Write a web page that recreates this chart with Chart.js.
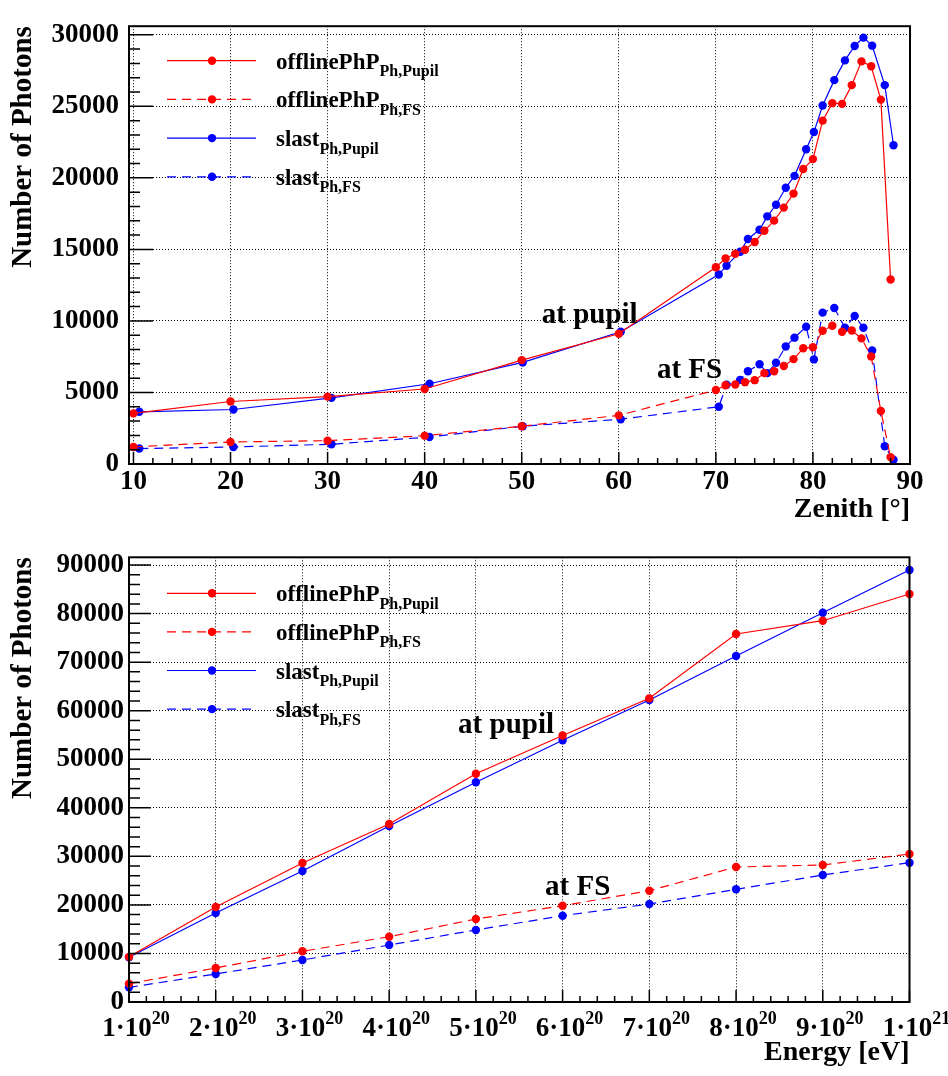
<!DOCTYPE html>
<html>
<head>
<meta charset="utf-8">
<script src="https://cdn.jsdelivr.net/npm/chart.js@4.4.0/dist/chart.umd.min.js"></script>
<style>
  html, body { margin: 0; padding: 0; background: #fff; }
  #wrap { position: relative; width: 948px; height: 1076px; }
  canvas { position: absolute; left: 0; }
</style>
</head>
<body>
<div id="wrap">
  <canvas id="zenithChart" width="948" height="530" style="top:0px"></canvas>
  <canvas id="energyChart" width="948" height="546" style="top:530px"></canvas>
</div>
<script>
// ---- top plot: photons vs zenith ----
var zenithOffline = [10, 20, 30, 40, 50, 60, 70, 71, 72, 73, 74, 75, 76, 77, 78, 79, 80, 81, 82, 83, 84, 85, 86, 87, 88];
var offlinePupilZ = [3540, 4370, 4710, 5240, 7260, 9100, 13750, 14370, 14690, 14970, 15520, 16300, 17010, 17920, 18900, 20620, 21310, 24000, 25220, 25170, 26480, 28140, 27800, 25470, 12900];
var offlineFSZ = [1190, 1540, 1630, 1980, 2640, 3400, 5170, 5500, 5560, 5720, 5860, 6350, 6480, 6850, 7330, 8090, 8160, 9310, 9660, 9240, 9330, 8780, 7520, 3700, 480];

var zenithSlast = [10.6, 20.3, 30.4, 40.5, 50.1, 60.2, 70.3, 71.1, 72.5, 73.3, 74.5, 75.3, 76.2, 77.2, 78.1, 79.3, 80.1, 81.0, 82.2, 83.3, 84.3, 85.2, 86.1, 87.4, 88.3];
var slastPupilZ = [3650, 3810, 4620, 5610, 7100, 9240, 13240, 13860, 14830, 15730, 16370, 17310, 18120, 19310, 20140, 22000, 23200, 25060, 26830, 28210, 29220, 29800, 29240, 26480, 22280];
var slastFSZ = [1080, 1190, 1380, 1890, 2640, 3130, 4000, 5540, 5880, 6480, 6970, 6350, 7080, 8210, 8830, 9590, 7310, 10580, 10900, 9520, 10350, 9520, 7930, 1240, 300];

var zenithTicks = [10, 20, 30, 40, 50, 60, 70, 80, 90];
var photonTicksZ = [0, 5000, 10000, 15000, 20000, 25000, 30000];

// ---- bottom plot: photons vs energy ----
var energy = [1e20, 2e20, 3e20, 4e20, 5e20, 6e20, 7e20, 8e20, 9e20, 1e21];
var offlinePupilE = [9300, 19570, 28630, 36660, 47030, 54900, 62550, 75800, 78540, 84040];
var offlineFSE = [3780, 7000, 10440, 13450, 17100, 19840, 22930, 27810, 28220, 30480];
var slastPupilE = [9200, 18330, 26980, 36250, 45250, 53900, 62200, 71270, 80190, 88980];
var slastFSE = [3020, 5770, 8650, 11740, 14830, 17780, 20190, 23210, 26160, 28690];

var energyTicks = [1e20, 2e20, 3e20, 4e20, 5e20, 6e20, 7e20, 8e20, 9e20, 1e21];
var photonTicksE = [0, 10000, 20000, 30000, 40000, 50000, 60000, 70000, 80000, 90000];

var legendMain = ["offlinePhP", "offlinePhP", "slast", "slast"];
var legendSub = ["Ph,Pupil", "Ph,FS", "Ph,Pupil", "Ph,FS"];

var SERIF = "'Liberation Serif', 'Times New Roman', serif";
var RED = "#ff0000";
var BLUE = "#0000ff";

Chart.defaults.font.family = SERIF;
Chart.defaults.color = "#000";

function series(label, xs, ys, color, dashed) {
  var pts = [];
  for (var i = 0; i < xs.length; i++) {
    pts.push({ x: xs[i], y: ys[i] });
  }
  return {
    label: label,
    data: pts,
    showLine: true,
    borderColor: color,
    backgroundColor: color,
    borderWidth: 1.2,
    borderDash: dashed ? [9, 6] : [],
    pointRadius: 4.2,
    pointHoverRadius: 4.2,
    pointBorderWidth: 0,
    pointBackgroundColor: color,
    tension: 0,
    clip: false,
  };
}

function fixedTicks(values) {
  return function (scale) {
    scale.ticks = values.map(function (v) { return { value: v }; });
  };
}

// ROOT-like frame, inner tick marks, legend with subscripts and text labels
var rootDeco = {
  id: "rootDeco",
  afterDraw: function (chart, args, o) {
    var ctx = chart.ctx;
    var a = chart.chartArea;
    var xs = chart.scales.x;
    var ys = chart.scales.y;
    ctx.save();
    ctx.strokeStyle = "#000";
    ctx.setLineDash([]);
    ctx.lineWidth = 1.5;
    ctx.beginPath();
    // x ticks
    var k, v, p;
    var x0 = Math.ceil(xs.min / o.xMinor - 1e-9) * o.xMinor;
    for (k = 0; ; k++) {
      v = x0 + k * o.xMinor;
      if (v > xs.max * (1 + 1e-9)) break;
      p = xs.getPixelForValue(v);
      var isMajor = Math.abs(v / o.xMajor - Math.round(v / o.xMajor)) < 1e-6;
      ctx.moveTo(p, a.bottom);
      ctx.lineTo(p, a.bottom - (isMajor ? o.xMajorLen : o.xMinorLen));
    }
    // y ticks
    for (k = 0; ; k++) {
      v = k * o.yMinor;
      if (v > ys.max) break;
      p = ys.getPixelForValue(v);
      var yMaj = (v % o.yMajor) === 0;
      ctx.moveTo(a.left, p);
      ctx.lineTo(a.left + (yMaj ? o.yMajorLen : o.yMinorLen), p);
    }
    ctx.stroke();
    ctx.lineWidth = 2;
    ctx.strokeRect(a.left, a.top, a.right - a.left, a.bottom - a.top);

    // legend
    var ds = chart.data.datasets;
    for (var i = 0; i < ds.length; i++) {
      var ry = a.top + o.legendTop + i * o.legendStep;
      ctx.strokeStyle = ds[i].borderColor;
      ctx.lineWidth = 1.2;
      ctx.setLineDash(ds[i].borderDash);
      ctx.beginPath();
      ctx.moveTo(167, ry);
      ctx.lineTo(256, ry);
      ctx.stroke();
      ctx.setLineDash([]);
      ctx.fillStyle = ds[i].borderColor;
      ctx.beginPath();
      ctx.arc(212, ry, 4.2, 0, Math.PI * 2);
      ctx.fill();
      ctx.fillStyle = "#000";
      ctx.textAlign = "left";
      ctx.textBaseline = "alphabetic";
      ctx.font = "bold 23px " + SERIF;
      ctx.fillText(legendMain[i], 276, ry + 8);
      var w = ctx.measureText(legendMain[i]).width;
      ctx.font = "bold 16px " + SERIF;
      ctx.fillText(legendSub[i], 276 + w, ry + 15.5);
    }

    // curve labels
    ctx.font = "bold 29px " + SERIF;
    ctx.fillStyle = "#000";
    o.notes.forEach(function (n) {
      ctx.fillText(n.text, xs.getPixelForValue(n.x), ys.getPixelForValue(n.y));
    });

    // power-of-ten tick labels
    if (o.powerLabels) {
      xs.ticks.forEach(function (t) {
        var e = Math.floor(Math.log10(t.value) + 1e-9);
        var m = Math.round(t.value / Math.pow(10, e));
        var base = m + "\u00b710";
        var sup = String(e);
        ctx.font = "bold 27px " + SERIF;
        var w1 = ctx.measureText(base).width;
        ctx.font = "bold 18px " + SERIF;
        var w2 = ctx.measureText(sup).width;
        var px = xs.getPixelForValue(t.value) + 7 - (w1 + w2) / 2;
        ctx.font = "bold 27px " + SERIF;
        ctx.fillText(base, px, a.bottom + 34);
        ctx.font = "bold 18px " + SERIF;
        ctx.fillText(sup, px + w1, a.bottom + 22);
      });
    }
    ctx.restore();
  },
};

function axes(cfg) {
  return {
    x: {
      type: "linear",
      min: cfg.xMin,
      max: cfg.xMax,
      afterBuildTicks: fixedTicks(cfg.xTickValues),
      afterFit: function (s) { s.height = cfg.xHeight; },
      ticks: {
        autoSkip: false,
        maxRotation: 0,
        display: cfg.xTicks,
        padding: 2,
        color: "#000",
        font: { size: 27, weight: "bold" },
        callback: function (v) { return String(v); },
      },
      grid: { color: "#000", lineWidth: 1, drawTicks: false },
      border: { display: false, dash: [1, 2] },
      title: {
        display: true,
        text: cfg.xTitle,
        align: "end",
        color: "#000",
        font: { size: 28, weight: "bold" },
        padding: { top: 0, bottom: cfg.xTitlePad },
      },
    },
    y: {
      type: "linear",
      min: 0,
      max: cfg.yMax,
      afterBuildTicks: fixedTicks(cfg.yTickValues),
      afterFit: function (s) { s.width = 129; },
      ticks: {
        padding: cfg.yPad,
        color: "#000",
        font: { size: 27, weight: "bold" },
        callback: function (v) { return String(v); },
      },
      grid: { color: "#000", lineWidth: 1, drawTicks: false },
      border: { display: false, dash: [1, 2] },
      title: {
        display: true,
        text: "Number of Photons",
        align: "end",
        color: "#000",
        font: { size: 29, weight: "bold" },
        padding: { top: 6, bottom: 0 },
      },
    },
  };
}

new Chart(document.getElementById("zenithChart"), {
  type: "scatter",
  data: {
    datasets: [
      series("offlinePhP Ph,Pupil", zenithOffline, offlinePupilZ, RED, false),
      series("offlinePhP Ph,FS", zenithOffline, offlineFSZ, RED, true),
      series("slast Ph,Pupil", zenithSlast, slastPupilZ, BLUE, false),
      series("slast Ph,FS", zenithSlast, slastFSZ, BLUE, true),
    ],
  },
  options: {
    responsive: false,
    animation: false,
    devicePixelRatio: 1,
    layout: { padding: { top: 20.5, right: 38, bottom: 0, left: 0 } },
    scales: axes({
      xMin: 9.54, xMax: 90, xTickValues: zenithTicks, xHeight: 66, xTicks: true,
      xTitle: "Zenith [\u00b0]", xTitlePad: 3, yMax: 30600, yTickValues: photonTicksZ, yPad: 10,
    }),
    plugins: {
      legend: { display: false },
      tooltip: { enabled: false },
      rootDeco: {
        xMajor: 10, xMinor: 2, xMajorLen: 12, xMinorLen: 6,
        yMajor: 5000, yMinor: 1000, yMajorLen: 24, yMinorLen: 11,
        legendTop: 34.5, legendStep: 38.7,
        notes: [
          { text: "at pupil", x: 52.06, y: 9870 },
          { text: "at FS", x: 63.93, y: 6000 },
        ],
        powerLabels: false,
      },
    },
  },
  plugins: [rootDeco],
});

new Chart(document.getElementById("energyChart"), {
  type: "scatter",
  data: {
    datasets: [
      series("offlinePhP Ph,Pupil", energy, offlinePupilE, RED, false),
      series("offlinePhP Ph,FS", energy, offlineFSE, RED, true),
      series("slast Ph,Pupil", energy, slastPupilE, BLUE, false),
      series("slast Ph,FS", energy, slastFSE, BLUE, true),
    ],
  },
  options: {
    responsive: false,
    animation: false,
    devicePixelRatio: 1,
    layout: { padding: { top: 27.3, right: 38.5, bottom: 0, left: 0 } },
    scales: axes({
      xMin: 1e20, xMax: 1e21, xTickValues: energyTicks, xHeight: 74, xTicks: false,
      xTitle: "Energy [eV]", xTitlePad: 6, yMax: 91600, yTickValues: photonTicksE, yPad: 5,
    }),
    plugins: {
      legend: { display: false },
      tooltip: { enabled: false },
      rootDeco: {
        xMajor: 1e20, xMinor: 2e19, xMajorLen: 12, xMinorLen: 6,
        yMajor: 10000, yMinor: 2000, yMajorLen: 22, yMinorLen: 11,
        legendTop: 36, legendStep: 38.6,
        notes: [
          { text: "at pupil", x: 4.795e20, y: 55400 },
          { text: "at FS", x: 5.798e20, y: 22040 },
        ],
        powerLabels: true,
      },
    },
  },
  plugins: [rootDeco],
});
</script>
</body>
</html>
